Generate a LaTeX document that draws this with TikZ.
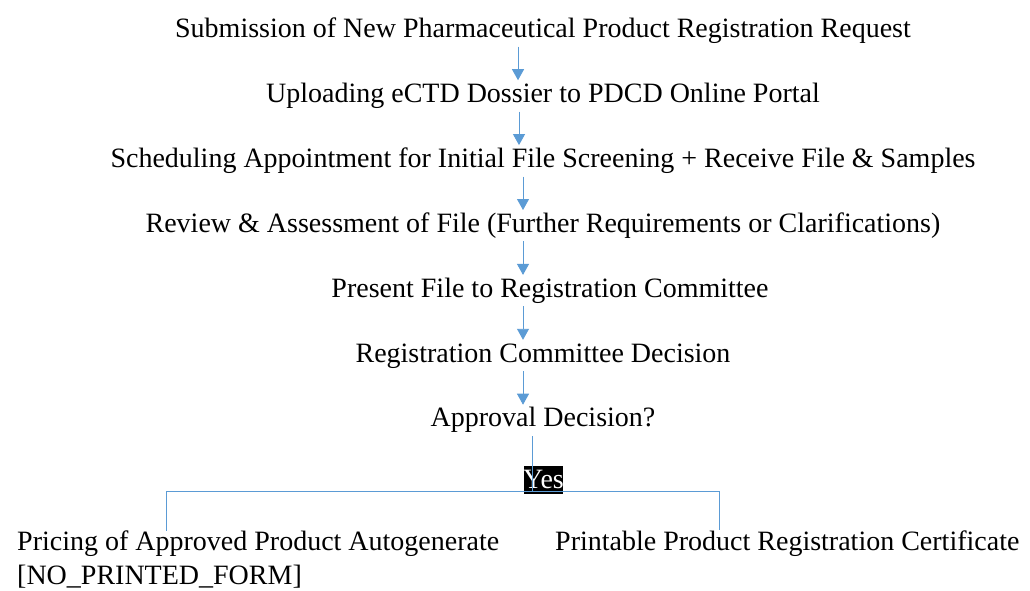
\documentclass[tikz,border=0pt]{standalone}
\usepackage{fontspec}
\setmainfont{Liberation Serif}
\usetikzlibrary{positioning,arrows.meta}
\definecolor{flowblue}{HTML}{5B9BD5}

\begin{document}
\begin{tikzpicture}[x=1pt,y=-1pt,node distance=33.5pt,
  every node/.style={font=\fontsize{28}{33.5}\selectfont},
  stage/.style={inner sep=2pt, text height=20pt, text depth=7pt},
  outcome/.style={inner sep=0pt, align=left, anchor=base west},
  flow/.style={draw=flowblue, line width=0.9pt, -{Triangle[width=12pt,length=11pt]}, color=flowblue},
  link/.style={draw=flowblue, line width=0.9pt}]
\useasboundingbox (0,0) rectangle (1030,590);

\node(submit)	[stage] at (543,31)	{Submission of New Pharmaceutical Product Registration Request};
\node(upload)	[stage, below = of submit]
{Uploading eCTD Dossier to PDCD Online Portal};
\node(schedule)	[stage, below = of upload]
{Scheduling Appointment for Initial File Screening + Receive File \& Samples};
\node(review)	[stage, below = of schedule]
{Review \& Assessment of File (Further Requirements or Clarifications)};
\node(present)	[stage, below = of review, xshift=7pt]
{Present File to Registration Committee};
\node(committee)	[stage, below = of present, xshift=-7pt]
{Registration Committee Decision};
\node(decision)	[stage, below = of committee]
{Approval Decision?};
\node(yes)	[stage, inner xsep=-0.5pt, inner ysep=0pt, text height=22pt, text depth=6pt,
  fill=black, text=white, below = 30pt of decision, xshift=0.5pt]
{Yes};

\node(price)	[outcome] at (17,584)
{Pricing of Approved Product Autogenerate\\{[NO\_PRINTED\_FORM]}};
\node(cert)	[outcome] at (555,550)
{Printable Product Registration Certificate};

\coordinate(jl) at (166,491);
\coordinate(jr) at (719,491);

\draw[flow]([xshift=-25pt]submit.south) -- ([xshift=-25pt]submit.south |- upload.north);
\draw[flow]([xshift=-24pt]upload.south) -- ([xshift=-24pt]upload.south |- schedule.north);
\draw[flow]([xshift=-20pt]schedule.south) -- ([xshift=-20pt]schedule.south |- review.north);
\draw[flow]([xshift=-20pt]review.south) -- ([xshift=-20pt]review.south |- present.north);
\draw[flow]([xshift=-27pt]present.south) -- ([xshift=-27pt]present.south |- committee.north);
\draw[flow]([xshift=-20pt]committee.south) -- ([xshift=-20pt]committee.south |- decision.north);

\draw[link]([xshift=-11pt]decision.south) -- ([xshift=-11pt]decision.south |- jl);
\draw[link](jl) -- (jr);
\draw[link](jl) -- (jl |- price.north);
\draw[link](jr) -- (jr |- cert.north);
\end{tikzpicture}
\end{document}
